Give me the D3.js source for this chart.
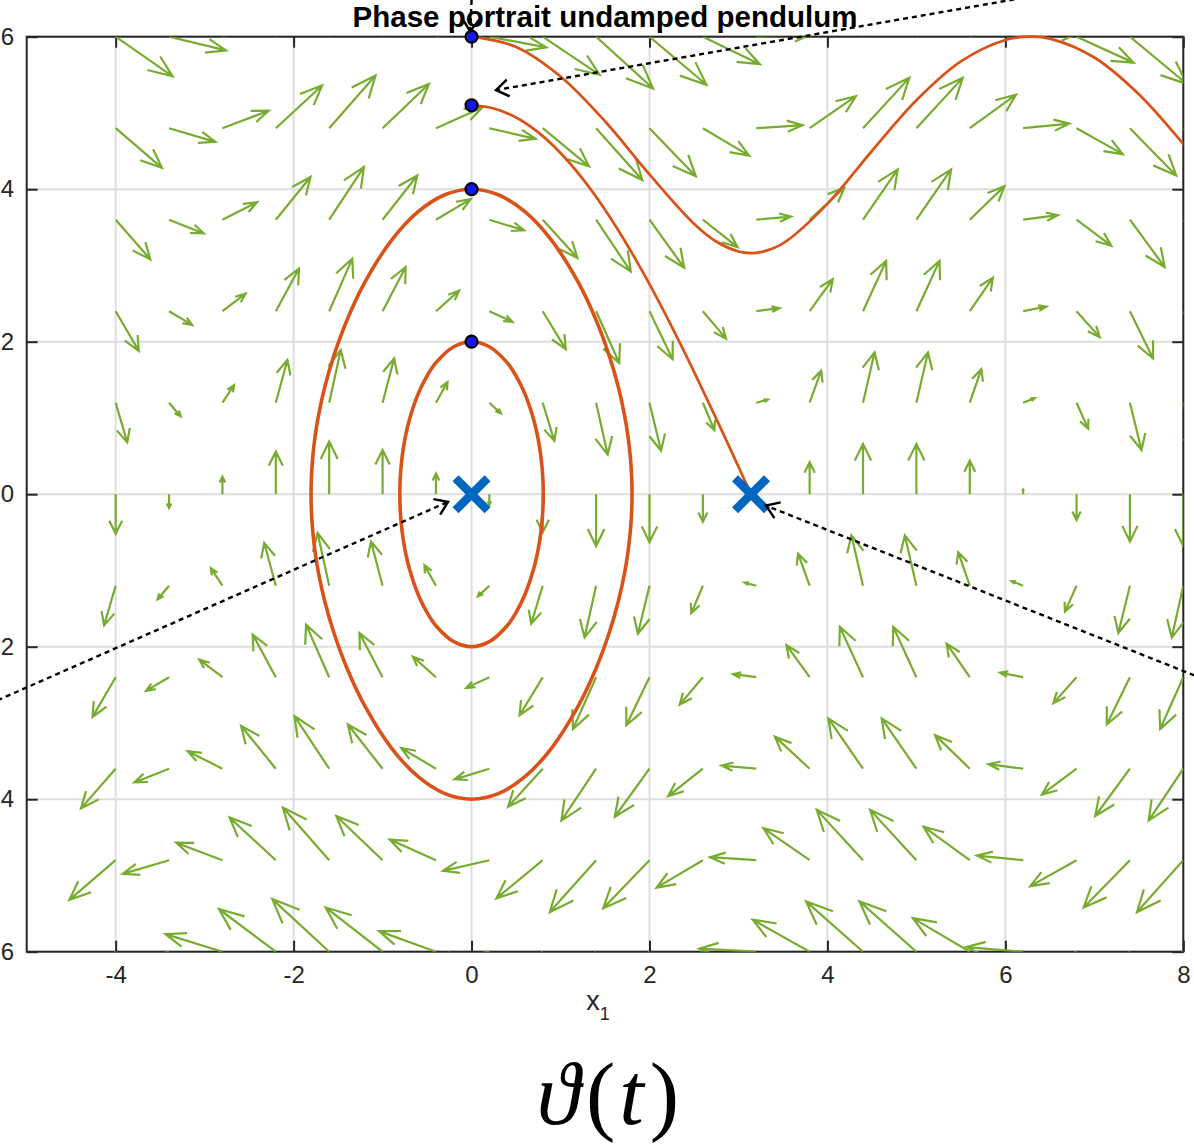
<!DOCTYPE html>
<html><head><meta charset="utf-8">
<script src="https://cdn.jsdelivr.net/npm/d3@7"></script>
<style>body{margin:0;background:#fff}svg{display:block}</style>
</head><body>
<script>
// ---------------- data ----------------
const titleText = "Phase portrait undamped pendulum";
const xTicks = [-4, -2, 0, 2, 4, 6, 8];
const yTicks = [-6, -4, -2, 0, 2, 4, 6];

// quiver grid: u depends on the row (x2), v on the column (x1)
const quiverX = [-4, -3.4, -2.8, -2.2, -1.6, -1.0, -0.4, 0.2, 0.8, 1.4, 2.0, 2.6, 3.2, 3.8, 4.4, 5.0, 5.6, 6.2, 6.8, 7.4, 8.0];
const quiverY = [-6, -4.8, -3.6, -2.4, -1.2, 0, 1.2, 2.4, 3.6, 4.8, 6];
const quiverU = [-0.64, -0.52, -0.39, -0.26, -0.13, 0, 0.13, 0.26, 0.39, 0.52, 0.64];
const quiverV = [-0.52, -0.18, 0.23, 0.56, 0.69, 0.58, 0.27, -0.14, -0.50, -0.68, -0.63, -0.36, 0.04, 0.42, 0.66, 0.66, 0.44, 0.06, -0.34, -0.62, -0.68];

// trajectories
const orbitInner = [[0,2],[0.2,1.934],[0.4,1.725],[0.5,1.552],[0.6,1.315],[0.7,0.971],[0.75,0.716],[0.78,0.492],[0.8,0.239],[0.806,0],
  [0.8,-0.239],[0.78,-0.492],[0.75,-0.716],[0.7,-0.971],[0.6,-1.315],[0.5,-1.552],[0.4,-1.725],[0.2,-1.934],[0,-2],
  [-0.2,-1.934],[-0.4,-1.725],[-0.5,-1.552],[-0.6,-1.315],[-0.7,-0.971],[-0.75,-0.716],[-0.78,-0.492],[-0.8,-0.239],[-0.806,0],
  [-0.8,0.239],[-0.78,0.492],[-0.75,0.716],[-0.7,0.971],[-0.6,1.315],[-0.5,1.552],[-0.4,1.725],[-0.2,1.934]];
const orbitOuter = [[0,4],[0.3,3.927],[0.6,3.705],[0.9,3.329],[1.2,2.777],[1.4,2.283],[1.55,1.808],[1.65,1.404],[1.72,1.033],[1.76,0.744],[1.785,0.485],[1.8,0.215],[1.804,0],
  [1.8,-0.215],[1.785,-0.485],[1.76,-0.744],[1.72,-1.033],[1.65,-1.404],[1.55,-1.808],[1.4,-2.283],[1.2,-2.777],[0.9,-3.329],[0.6,-3.705],[0.3,-3.927],[0,-4],
  [-0.3,-3.927],[-0.6,-3.705],[-0.9,-3.329],[-1.2,-2.777],[-1.4,-2.283],[-1.55,-1.808],[-1.65,-1.404],[-1.72,-1.033],[-1.76,-0.744],[-1.785,-0.485],[-1.8,-0.215],[-1.804,0],
  [-1.8,0.215],[-1.785,0.485],[-1.76,0.744],[-1.72,1.033],[-1.65,1.404],[-1.55,1.808],[-1.4,2.283],[-1.2,2.777],[-0.9,3.329],[-0.6,3.705],[-0.3,3.927]];
const separatrix = [[0,5.099],[0.25,5.059],[0.5,4.940],[0.75,4.745],[1,4.475],[1.25,4.135],[1.5,3.731],[1.75,3.268],[2,2.755],[2.25,2.199],[2.5,1.608],[2.75,0.992],[3,0.361],[3.1416,0]];
const rotating = [[0,6],[0.5,5.866],[1,5.479],[1.5,4.891],[2,4.194],[2.5,3.548],[2.75,3.314],[3,3.183],[3.1416,3.162],[3.25,3.174],[3.5,3.290],[4,3.808],[4.5,4.501],[5,5.166],[5.5,5.676],[6,5.957],[6.2832,6],[6.5,5.975],[7,5.727],[7.5,5.245],[8,4.594],[8.5,3.895]];

const startPoints = [[0,6],[0,5.1],[0,4],[0,2]];
const equilibria = [[0,0],[3.1416,0]];

// annotation arrows (data coordinates, tails may lie outside the axes)
const annotations = [
  {from:[-5.42,-2.75], to:[-0.264,-0.10]},
  {from:[8.22,-2.42],  to:[3.31,-0.15]},
  {from:[6.30,6.53],   to:[0.275,5.30]},
  {from:[0.005,6.60],  to:[-0.015,6.07]}
];

// ---------------- chart ----------------
const W = 1194, H = 1147;
const x = d3.scaleLinear().domain([-5, 8]).range([26.7, 1183.3]);
const y = d3.scaleLinear().domain([-6, 6]).range([951.7, 36.7]);
const axisColor = "#262626";
const font = "'Liberation Sans', Arial, Helvetica, sans-serif";

const svg = d3.select("body").append("svg").attr("width", W).attr("height", H);
const defs = svg.append("defs");
defs.append("clipPath").attr("id", "clipQ").append("rect")
  .attr("x", x(-5)).attr("y", y(6)).attr("width", x(8) - x(-5)).attr("height", y(-6) - y(6));
defs.append("clipPath").attr("id", "clipC").append("rect")
  .attr("x", x(-5)).attr("y", y(6) - 2).attr("width", x(8) - x(-5)).attr("height", y(-6) - y(6) + 4);

// grid
const grid = svg.append("g").attr("stroke", "#dedede").attr("stroke-width", 2);
grid.selectAll("line.gx").data(xTicks).join("line")
  .attr("x1", d => x(d)).attr("x2", d => x(d)).attr("y1", y(6)).attr("y2", y(-6));
grid.selectAll("line.gy").data(yTicks).join("line")
  .attr("y1", d => y(d)).attr("y2", d => y(d)).attr("x1", x(-5)).attr("x2", x(8));

// axes (ticks inward, on all four sides)
const tl = 11;
function styleAxis(g) {
  g.select(".domain").remove();
  g.selectAll(".tick line").attr("stroke", axisColor).attr("stroke-width", 2);
  g.selectAll(".tick text").attr("fill", axisColor).attr("font-family", font).attr("font-size", 24);
}
svg.append("g").attr("transform", `translate(0,${y(-6)})`)
  .call(d3.axisBottom(x).tickValues(xTicks).tickSizeInner(-tl).tickSizeOuter(0).tickPadding(14).tickFormat(d => String(d)))
  .call(styleAxis);
svg.append("g").attr("transform", `translate(0,${y(6)})`)
  .call(d3.axisTop(x).tickValues(xTicks).tickSizeInner(-tl).tickSizeOuter(0).tickFormat(""))
  .call(styleAxis);
svg.append("g").attr("transform", `translate(${x(-5)},0)`)
  .call(d3.axisLeft(y).tickValues(yTicks).tickSizeInner(-tl).tickSizeOuter(0).tickPadding(12.5).tickFormat(d => String(d)))
  .call(styleAxis);
svg.append("g").attr("transform", `translate(${x(8)},0)`)
  .call(d3.axisRight(y).tickValues(yTicks).tickSizeInner(-tl).tickSizeOuter(0).tickFormat(""))
  .call(styleAxis);
svg.append("rect").attr("x", x(-5)).attr("y", y(6)).attr("width", x(8) - x(-5)).attr("height", y(-6) - y(6))
  .attr("fill", "none").attr("stroke", axisColor).attr("stroke-width", 2);

// quiver
const arrows = [];
quiverY.forEach((yy, i) => quiverX.forEach((xx, j) => arrows.push({x: xx, y: yy, u: quiverU[i], v: quiverV[j]})));
const alpha = 0.33, beta = 0.42;
function quiverPath(a) {
  const tx = a.x + a.u, ty = a.y + a.v;
  const h1x = tx - alpha * (a.u + beta * a.v), h1y = ty - alpha * (a.v - beta * a.u);
  const h2x = tx - alpha * (a.u - beta * a.v), h2y = ty - alpha * (a.v + beta * a.u);
  return `M${x(a.x)},${y(a.y)}L${x(tx)},${y(ty)}M${x(h1x)},${y(h1y)}L${x(tx)},${y(ty)}L${x(h2x)},${y(h2y)}`;
}
svg.append("g").attr("clip-path", "url(#clipQ)")
  .selectAll("path").data(arrows.filter(a => a.u !== 0 || a.v !== 0)).join("path")
  .attr("d", quiverPath).attr("fill", "none").attr("stroke", "#77AC30").attr("stroke-width", 2.2)
  .attr("stroke-linejoin", "miter");

// trajectories
const lineClosed = d3.line().x(d => x(d[0])).y(d => y(d[1])).curve(d3.curveCatmullRomClosed.alpha(0.5));
const lineOpen = d3.line().x(d => x(d[0])).y(d => y(d[1])).curve(d3.curveCatmullRom.alpha(0.5));
const cg = svg.append("g").attr("clip-path", "url(#clipC)").attr("fill", "none").attr("stroke", "#D95319");
cg.append("path").attr("d", lineClosed(orbitInner)).attr("stroke-width", 3.6);
cg.append("path").attr("d", lineClosed(orbitOuter)).attr("stroke-width", 3.6);
cg.append("path").attr("d", lineOpen(separatrix)).attr("stroke-width", 2.7);
cg.append("path").attr("d", lineOpen(rotating)).attr("stroke-width", 2.7);

// start points
svg.append("g").selectAll("circle").data(startPoints).join("circle")
  .attr("cx", d => x(d[0])).attr("cy", d => y(d[1])).attr("r", 6)
  .attr("fill", "#1414ff").attr("stroke", "#000").attr("stroke-width", 2.2);

// equilibria (X markers)
const xs = 16;
svg.append("g").selectAll("path").data(equilibria).join("path")
  .attr("d", d => `M${x(d[0]) - xs},${y(d[1]) - xs}L${x(d[0]) + xs},${y(d[1]) + xs}M${x(d[0]) - xs},${y(d[1]) + xs}L${x(d[0]) + xs},${y(d[1]) - xs}`)
  .attr("stroke", "#0066C0").attr("stroke-width", 8.5).attr("fill", "none");

// annotations
const ag = svg.append("g").attr("stroke", "#000").attr("fill", "none").attr("stroke-width", 2.4);
annotations.forEach(a => {
  const x0 = x(a.from[0]), y0 = y(a.from[1]), x1 = x(a.to[0]), y1 = y(a.to[1]);
  ag.append("line").attr("x1", x0).attr("y1", y0).attr("x2", x1).attr("y2", y1).attr("stroke-dasharray", "5,4");
  const ang = Math.atan2(y1 - y0, x1 - x0), hl = 15, ha = 0.6;
  ag.append("path").attr("d",
    `M${x1 - hl * Math.cos(ang - ha)},${y1 - hl * Math.sin(ang - ha)}L${x1},${y1}L${x1 - hl * Math.cos(ang + ha)},${y1 - hl * Math.sin(ang + ha)}`);
});

// title
svg.append("text").attr("x", (x(-5) + x(8)) / 2).attr("y", 27).attr("text-anchor", "middle")
  .attr("font-family", font).attr("font-weight", "bold").attr("font-size", 29.5).attr("fill", "#000").text(titleText);

// x label
const xl = svg.append("text").attr("x", 598).attr("y", 1010).attr("text-anchor", "middle")
  .attr("font-family", font).attr("font-size", 27).attr("fill", axisColor);
xl.append("tspan").text("x");
xl.append("tspan").attr("font-size", 18).attr("dy", 10).text("1");

// big LaTeX-like label
const tl2 = svg.append("text").attr("x", 608).attr("y", 1124).attr("text-anchor", "middle")
  .attr("font-family", "'Liberation Serif', 'DejaVu Serif', serif").attr("font-size", 88).attr("fill", "#000");
tl2.append("tspan").attr("font-style", "italic").text("ϑ");
tl2.append("tspan").attr("dx", 6).text("(");
tl2.append("tspan").attr("dx", 4).attr("font-style", "italic").text("t");
tl2.append("tspan").attr("dx", 6).text(")");
</script>
</body></html>
